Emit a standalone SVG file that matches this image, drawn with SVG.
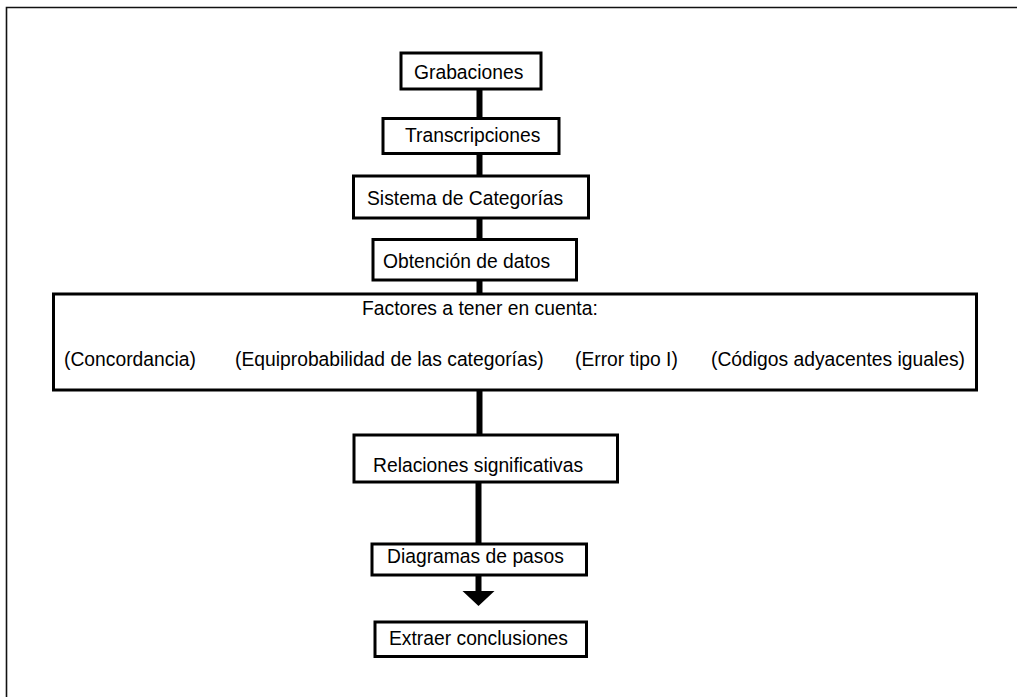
<svg xmlns="http://www.w3.org/2000/svg" width="1017" height="697" viewBox="0 0 1017 697">
<style>
.box{fill:#fff;stroke:#000;stroke-width:3}
.t{font-family:"Liberation Sans",Arial,sans-serif;font-size:19.3px;fill:#000}
.c{stroke:#000;stroke-width:6;fill:none}
</style>
<rect width="1017" height="697" fill="#fff"/>
<path d="M6.5 697 V7.5 H1017" fill="none" stroke="#111" stroke-width="1.6"/>
<g id="connectors">
<line class="c" x1="479.5" y1="89" x2="479.5" y2="118"/>
<line class="c" x1="479.5" y1="153" x2="479.5" y2="176"/>
<line class="c" x1="479.5" y1="218" x2="479.5" y2="240"/>
<line class="c" x1="479.5" y1="280" x2="479.5" y2="294"/>
<line class="c" x1="479.5" y1="390" x2="479.5" y2="435"/>
<line class="c" x1="478.5" y1="482" x2="478.5" y2="544"/>
<line class="c" x1="478.5" y1="575" x2="478.5" y2="592"/>
<polygon points="462.5,591 494.5,591 478.5,606" fill="#000"/>
</g>
<g id="grabaciones"><rect class="box" x="401" y="53" width="140" height="36"/><text class="t" x="414" y="79">Grabaciones</text></g>
<g id="transcripciones"><rect class="box" x="383" y="118.5" width="176" height="35"/><text class="t" x="405" y="142">Transcripciones</text></g>
<g id="sistema"><rect class="box" x="353.5" y="176" width="235" height="42"/><text class="t" x="367" y="205">Sistema de Categorías</text></g>
<g id="obtencion"><rect class="box" x="373" y="239.5" width="203.5" height="40.5"/><text class="t" x="383" y="268">Obtención de datos</text></g>
<g id="factores"><rect class="box" x="53.5" y="294" width="923" height="96"/>
<text class="t" x="362" y="315">Factores a tener en cuenta:</text>
<text class="t" x="64" y="366">(Concordancia)</text>
<text class="t" x="235" y="366">(Equiprobabilidad de las categorías)</text>
<text class="t" x="575" y="366">(Error tipo I)</text>
<text class="t" x="711" y="366">(Códigos adyacentes iguales)</text>
</g>
<g id="relaciones"><rect class="box" x="354" y="435" width="263.5" height="47"/><text class="t" x="373" y="472">Relaciones significativas</text></g>
<g id="diagramas"><rect class="box" x="372" y="544" width="214.5" height="31"/><text class="t" x="387" y="563">Diagramas de pasos</text></g>
<g id="extraer"><rect class="box" x="375" y="622" width="211.5" height="34.5"/><text class="t" x="389" y="645">Extraer conclusiones</text></g>
</svg>
